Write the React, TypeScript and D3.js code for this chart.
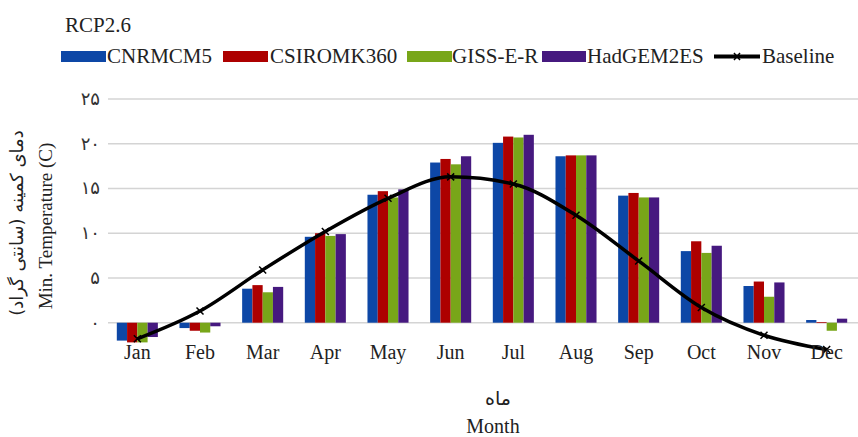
import React from "react";
import * as d3 from "d3";

const months = ["Jan", "Feb", "Mar", "Apr", "May", "Jun", "Jul", "Aug", "Sep", "Oct", "Nov", "Dec"];
const seriesNames = ["CNRMCM5", "CSIROMK360", "GISS-E-R", "HadGEM2ES"];
const cnrmcm5 = [-2.0, -0.6, 3.8, 9.6, 14.3, 17.9, 20.1, 18.6, 14.2, 8.0, 4.1, 0.3];
const csiromk360 = [-2.2, -0.9, 4.2, 10.0, 14.7, 18.3, 20.8, 18.7, 14.5, 9.1, 4.6, 0.05];
const gissER = [-2.2, -1.1, 3.4, 9.7, 14.0, 17.7, 20.7, 18.7, 14.0, 7.8, 2.9, -0.9];
const hadgem2es = [-1.6, -0.4, 4.0, 9.9, 14.9, 18.6, 21.0, 18.7, 14.0, 8.6, 4.5, 0.45];
const baseline = [-1.8, 1.3, 5.9, 10.2, 13.9, 16.3, 15.5, 12.0, 6.9, 1.7, -1.4, -3.0];
const yTicks = [0, 5, 10, 15, 20, 25];
const yTickLabels = ["۰", "۵", "۱۰", "۱۵", "۲۰", "۲۵"];

const colors = ["#0d47a6", "#ad0000", "#78a619", "#46197f"];
const seriesValues = [cnrmcm5, csiromk360, gissER, hadgem2es];

const SERIF = "Liberation Serif";
const FA = "DejaVu Sans";

export default function App() {
  const W = 858, H = 437;
  const x = d3.scaleBand<string>().domain(months).range([106, 858]).paddingInner(0.345).paddingOuter(0.1725);
  const y = d3.scaleLinear().domain([0, 25]).range([322.7, 99]);
  const inner = d3.scaleBand<number>().domain([0, 1, 2, 3]).range([0, x.bandwidth()]).padding(0);
  const line = d3.line<number>()
    .x((_, i) => (x(months[i]) as number) + x.bandwidth() / 2)
    .y((d) => y(d))
    .curve(d3.curveMonotoneX);

  const legendItems = [
    { rx: 61, rw: 45, tx: 107 },
    { rx: 223, rw: 45, tx: 270 },
    { rx: 407, rw: 45, tx: 452 },
    { rx: 542, rw: 44, tx: 587 },
  ];

  return (
    <svg width={W} height={H} style={{ position: "absolute", left: 0, top: 0, background: "#fff" }}>
      <text x={65} y={32} fontFamily={SERIF} fontSize={21} fill="#222">RCP2.6</text>
      {legendItems.map((l, i) => (
        <g key={i}>
          <rect x={l.rx} y={51} width={l.rw} height={11} fill={colors[i]} />
          <text x={l.tx} y={63} fontFamily={SERIF} fontSize={21} fill="#222">{seriesNames[i]}</text>
        </g>
      ))}
      <line x1={714} x2={760} y1={56.5} y2={56.5} stroke="#000" strokeWidth={4} />
      <path d="M734,53 L740,60 M740,53 L734,60" stroke="#000" strokeWidth={1.5} />
      <text x={762} y={63} fontFamily={SERIF} fontSize={21} fill="#222">Baseline</text>

      {yTicks.map((t, i) => (
        <g key={t}>
          <line x1={108} x2={858} y1={y(t)} y2={y(t)} stroke="#d4d4d4" strokeWidth={1.5} />
          <text x={100} y={y(t) + 6} textAnchor="end" fontFamily={FA} fontSize={18} fill="#333">{yTickLabels[i]}</text>
        </g>
      ))}

      {months.map((m) => (
        <g key={m} transform={`translate(${x(m)},0)`}>
          {seriesValues.map((vals, si) => {
            const v = vals[months.indexOf(m)];
            const y0 = y(0), y1 = y(v);
            return (
              <rect key={si} x={inner(si)} width={inner.bandwidth()} y={Math.min(y0, y1)} height={Math.max(Math.abs(y1 - y0), 0.8)} fill={colors[si]} />
            );
          })}
        </g>
      ))}

      <path d={line(baseline) || ""} fill="none" stroke="#000" strokeWidth={3.5} strokeLinejoin="round" />
      {baseline.map((v, i) => {
        const cx = (x(months[i]) as number) + x.bandwidth() / 2, cy = y(v);
        return <path key={i} d={`M${cx - 3.5},${cy - 3.5} L${cx + 3.5},${cy + 3.5} M${cx + 3.5},${cy - 3.5} L${cx - 3.5},${cy + 3.5}`} stroke="#000" strokeWidth={1.5} />;
      })}

      {months.map((m) => (
        <text key={m} x={(x(m) as number) + x.bandwidth() / 2} y={359} textAnchor="middle" fontFamily={SERIF} fontSize={20} fill="#222">{m}</text>
      ))}

      <text x={498} y={405} textAnchor="middle" fontFamily={FA} fontSize={19} fill="#222">ماه</text>
      <text x={493} y={433} textAnchor="middle" fontFamily={SERIF} fontSize={20} fill="#222">Month</text>

      <text transform="translate(23,223) rotate(-90)" textAnchor="middle" direction="rtl" fontFamily={FA} fontSize={18} fill="#222">دمای کمینه (سانتی گراد)</text>
      <text transform="translate(52,226) rotate(-90)" textAnchor="middle" fontFamily={SERIF} fontSize={19} fill="#222">Min. Temperature (C)</text>
    </svg>
  );
}
